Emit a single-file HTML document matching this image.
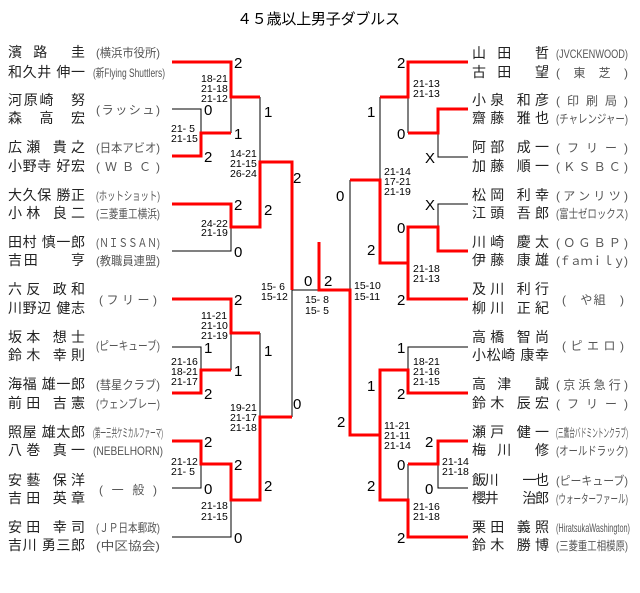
<!DOCTYPE html>
<html><head><meta charset="utf-8"><style>
html,body{margin:0;padding:0;background:#fff;}
svg{display:block;}
.n{font-family:"Liberation Sans","Noto Sans CJK JP",sans-serif;font-size:14px;fill:#222;}
.t{font-family:"Liberation Sans","Noto Sans CJK JP",sans-serif;font-size:12px;fill:#555;}
.s{font-family:"Liberation Sans",sans-serif;font-size:10.5px;fill:#000;}
.d{font-family:"Liberation Sans",sans-serif;font-size:15px;fill:#000;}
</style></head><body>
<svg width="640" height="593" viewBox="0 0 640 593" xmlns="http://www.w3.org/2000/svg">
<text x="237" y="24" textLength="163" lengthAdjust="spacing" style="font-family:'Liberation Sans','Noto Sans CJK JP',sans-serif;font-size:15px;fill:#000">４５歳以上男子ダブルス</text>

<g fill="none" stroke="#000" stroke-width="1">
<path d="M172,109 H201 V133"/><path d="M231,97 V133"/><path d="M172,251 H231 V227"/>
<path d="M260,97 V162"/><path d="M172,347 H201 V370"/><path d="M231,333 V370"/>
<path d="M260,333 V417"/><path d="M292,417 V290 H350 V180"/>
<path d="M172,488 H201 V464"/><path d="M172,537 H231 V500"/>
<path d="M380,97 V180"/><path d="M408,97 V133"/><path d="M468,157 H438 V133"/>
<path d="M468,204 H438 V227"/><path d="M468,347 H408 V370"/><path d="M468,488 H438 V464"/>
<path d="M408,464 V500"/>
</g>
<g fill="none" stroke="#f00" stroke-width="3">
<path d="M172,62 H231 V97 H260"/>
<path d="M172,156 H201 V133 H231"/>
<path d="M172,204 H231 V227 H260 V162 H292 V290"/>
<path d="M172,299 H231 V333 H260"/>
<path d="M172,393 H201 V370 H231"/>
<path d="M172,441 H201 V464 H231 V500 H260 V417 H292"/>
<path d="M319,242 V290 H350 V435 H380"/>
<path d="M468,62 H408 V97 H380"/>
<path d="M468,109 H438 V133 H408"/>
<path d="M468,251 H438 V227 H408 V299 H468"/>
<path d="M408,263 H380 V180 H350"/>
<path d="M468,393 H408 V370 H380 V500 H408 V537 H468"/>
<path d="M468,441 H438 V464 H408"/>
</g>

<g class="n">
<text x="8" y="57" textLength="77" lengthAdjust="spacing">濱　路　　圭</text>
<text x="8" y="77" textLength="77" lengthAdjust="spacing">和久井 伸一</text>
<text x="8" y="105" textLength="77" lengthAdjust="spacing">河原崎　努</text>
<text x="8" y="123" textLength="77" lengthAdjust="spacing">森　高　宏</text>
<text x="8" y="152" textLength="77" lengthAdjust="spacing">広瀬 貴之</text>
<text x="8" y="171" textLength="77" lengthAdjust="spacing">小野寺 好宏</text>
<text x="8" y="200" textLength="77" lengthAdjust="spacing">大久保 勝正</text>
<text x="8" y="218" textLength="77" lengthAdjust="spacing">小林 良二</text>
<text x="8" y="247" textLength="77" lengthAdjust="spacing">田村 慎一郎</text>
<text x="8" y="265" textLength="77" lengthAdjust="spacing">吉田　　亨</text>
<text x="8" y="294" textLength="77" lengthAdjust="spacing">六反 政和</text>
<text x="8" y="313" textLength="77" lengthAdjust="spacing">川野辺 健志</text>
<text x="8" y="342" textLength="77" lengthAdjust="spacing">坂本 想士</text>
<text x="8" y="360" textLength="77" lengthAdjust="spacing">鈴木 幸則</text>
<text x="8" y="389" textLength="77" lengthAdjust="spacing">海福 雄一郎</text>
<text x="8" y="408" textLength="77" lengthAdjust="spacing">前田 吉憲</text>
<text x="8" y="437" textLength="77" lengthAdjust="spacing">照屋 雄太郎</text>
<text x="8" y="455" textLength="77" lengthAdjust="spacing">八巻 真一</text>
<text x="8" y="485" textLength="77" lengthAdjust="spacing">安藝 保洋</text>
<text x="8" y="503" textLength="77" lengthAdjust="spacing">吉田 英章</text>
<text x="8" y="532" textLength="77" lengthAdjust="spacing">安田 幸司</text>
<text x="8" y="550" textLength="77" lengthAdjust="spacing">吉川 勇三郎</text>
</g>
<g class="t">
<text x="96" y="57" textLength="64" lengthAdjust="spacingAndGlyphs">(横浜市役所)</text>
<text x="93" y="77" textLength="72" lengthAdjust="spacingAndGlyphs">(新Flying Shuttlers)</text>
<text x="96" y="114" textLength="64" lengthAdjust="spacing">(ラッシュ)</text>
<text x="96" y="152" textLength="64" lengthAdjust="spacingAndGlyphs">(日本アビオ)</text>
<text x="96" y="171" textLength="64" lengthAdjust="spacing">(ＷＢＣ)</text>
<text x="96" y="200" textLength="64" lengthAdjust="spacingAndGlyphs">(ホットショット)</text>
<text x="96" y="218" textLength="64" lengthAdjust="spacingAndGlyphs">(三菱重工横浜)</text>
<text x="96" y="247" textLength="64" lengthAdjust="spacingAndGlyphs">(ＮＩＳＳＡＮ)</text>
<text x="96" y="265" textLength="64" lengthAdjust="spacingAndGlyphs">(教職員連盟)</text>
<text x="99" y="304" textLength="58" lengthAdjust="spacing">(フリー)</text>
<text x="96" y="350" textLength="64" lengthAdjust="spacingAndGlyphs">(ピーキューブ)</text>
<text x="96" y="389" textLength="64" lengthAdjust="spacingAndGlyphs">(彗星クラブ)</text>
<text x="96" y="408" textLength="64" lengthAdjust="spacingAndGlyphs">(ウェンブレー)</text>
<text x="93" y="437" textLength="70" lengthAdjust="spacingAndGlyphs">(第一三共ケミカルファーマ)</text>
<text x="93" y="455" textLength="70" lengthAdjust="spacingAndGlyphs">(NEBELHORN)</text>
<text x="99" y="494" textLength="58" lengthAdjust="spacing">(　一　般　)</text>
<text x="96" y="532" textLength="64" lengthAdjust="spacingAndGlyphs">(ＪＰ日本郵政)</text>
<text x="96" y="550" textLength="64" lengthAdjust="spacingAndGlyphs">(中区協会)</text>
</g>

<g class="n">
<text x="472" y="58" textLength="77" lengthAdjust="spacing">山　田　　哲</text>
<text x="472" y="77" textLength="77" lengthAdjust="spacing">古　田　　望</text>
<text x="472" y="105" textLength="77" lengthAdjust="spacing">小泉 和彦</text>
<text x="472" y="123" textLength="77" lengthAdjust="spacing">齋藤 雅也</text>
<text x="472" y="152" textLength="77" lengthAdjust="spacing">阿部 成一</text>
<text x="472" y="171" textLength="77" lengthAdjust="spacing">加藤 順一</text>
<text x="472" y="200" textLength="77" lengthAdjust="spacing">松岡 利幸</text>
<text x="472" y="218" textLength="77" lengthAdjust="spacing">江頭 吾郎</text>
<text x="472" y="247" textLength="77" lengthAdjust="spacing">川崎 慶太</text>
<text x="472" y="265" textLength="77" lengthAdjust="spacing">伊藤 康雄</text>
<text x="472" y="294" textLength="77" lengthAdjust="spacing">及川 利行</text>
<text x="472" y="313" textLength="77" lengthAdjust="spacing">柳川 正紀</text>
<text x="472" y="342" textLength="77" lengthAdjust="spacing">高橋 智尚</text>
<text x="472" y="360" textLength="77" lengthAdjust="spacing">小松崎 康幸</text>
<text x="472" y="389" textLength="77" lengthAdjust="spacing">高　津　　誠</text>
<text x="472" y="408" textLength="77" lengthAdjust="spacing">鈴木 辰宏</text>
<text x="472" y="437" textLength="77" lengthAdjust="spacing">瀬戸 健一</text>
<text x="472" y="455" textLength="77" lengthAdjust="spacing">梅　川　　修</text>
<text x="472" y="485" textLength="77" lengthAdjust="spacing">飯川　　一也</text>
<text x="472" y="503" textLength="77" lengthAdjust="spacing">櫻井　　治郎</text>
<text x="472" y="532" textLength="77" lengthAdjust="spacing">栗田 義照</text>
<text x="472" y="550" textLength="77" lengthAdjust="spacing">鈴木 勝博</text>
</g>
<g class="t">
<text x="556" y="58" textLength="72" lengthAdjust="spacingAndGlyphs">(JVCKENWOOD)</text>
<text x="556" y="77" textLength="72" lengthAdjust="spacing">(　東　芝　)</text>
<text x="556" y="105" textLength="72" lengthAdjust="spacing">(印刷局)</text>
<text x="556" y="123" textLength="72" lengthAdjust="spacingAndGlyphs">(チャレンジャー)</text>
<text x="556" y="152" textLength="72" lengthAdjust="spacing">(フリー)</text>
<text x="556" y="171" textLength="72" lengthAdjust="spacing">(ＫＳＢＣ)</text>
<text x="556" y="200" textLength="72" lengthAdjust="spacing">(アンリツ)</text>
<text x="556" y="218" textLength="72" lengthAdjust="spacingAndGlyphs">(富士ゼロックス)</text>
<text x="556" y="247" textLength="72" lengthAdjust="spacing">(ＯＧＢＰ)</text>
<text x="556" y="265" textLength="72" lengthAdjust="spacing">(ｆａｍｉｌｙ)</text>
<text x="562" y="304" textLength="62" lengthAdjust="spacing">(　や組　)</text>
<text x="562" y="350" textLength="62" lengthAdjust="spacing">(ピエロ)</text>
<text x="556" y="389" textLength="72" lengthAdjust="spacing">(京浜急行)</text>
<text x="556" y="408" textLength="72" lengthAdjust="spacing">(フリー)</text>
<text x="556" y="437" textLength="72" lengthAdjust="spacingAndGlyphs">(三鷹台バドミントンクラブ)</text>
<text x="556" y="455" textLength="72" lengthAdjust="spacingAndGlyphs">(オールドラック)</text>
<text x="556" y="485" textLength="72" lengthAdjust="spacingAndGlyphs">(ピーキューブ)</text>
<text x="556" y="503" textLength="72" lengthAdjust="spacingAndGlyphs">(ウォーターファール)</text>
<text x="556" y="532" textLength="74" lengthAdjust="spacingAndGlyphs">(HiratsukaWashington)</text>
<text x="556" y="550" textLength="72" lengthAdjust="spacingAndGlyphs">(三菱重工相模原)</text>
</g>

<g class="s" xml:space="preserve">
<text x="201" y="82">18-21</text><text x="201" y="92">21-18</text><text x="201" y="102">21-12</text>
<text x="171" y="132">21- 5</text><text x="171" y="142">21-15</text>
<text x="230" y="157">14-21</text><text x="230" y="167">21-15</text><text x="230" y="177">26-24</text>
<text x="201" y="227">24-22</text><text x="201" y="236">21-19</text>
<text x="261" y="290">15- 6</text><text x="261" y="300">15-12</text>
<text x="305" y="303">15- 8</text><text x="305" y="314">15- 5</text>
<text x="354" y="289">15-10</text><text x="354" y="300">15-11</text>
<text x="201" y="319">11-21</text><text x="201" y="329">21-10</text><text x="201" y="339">21-19</text>
<text x="171" y="365">21-16</text><text x="171" y="375">18-21</text><text x="171" y="385">21-17</text>
<text x="230" y="411">19-21</text><text x="230" y="421">21-17</text><text x="230" y="431">21-18</text>
<text x="171" y="465">21-12</text><text x="171" y="475">21- 5</text>
<text x="201" y="509">21-18</text><text x="201" y="520">21-15</text>
<text x="413" y="87">21-13</text><text x="413" y="97">21-13</text>
<text x="384" y="175">21-14</text><text x="384" y="185">17-21</text><text x="384" y="195">21-19</text>
<text x="413" y="272">21-18</text><text x="413" y="282">21-13</text>
<text x="413" y="365">18-21</text><text x="413" y="375">21-16</text><text x="413" y="385">21-15</text>
<text x="384" y="429">11-21</text><text x="384" y="439">21-11</text><text x="384" y="449">21-14</text>
<text x="442" y="465">21-14</text><text x="442" y="475">21-18</text>
<text x="413" y="510">21-16</text><text x="413" y="520">21-18</text>
</g>

<g class="d">
<text x="234" y="68">2</text><text x="204" y="115">0</text><text x="234" y="139">1</text><text x="204" y="162">2</text>
<text x="264" y="117">1</text><text x="234" y="210">2</text><text x="264" y="215">2</text><text x="234" y="257">0</text>
<text x="293" y="183">2</text><text x="304" y="286">0</text><text x="324" y="286">2</text>
<text x="234" y="305">2</text><text x="204" y="353">1</text><text x="234" y="376">1</text><text x="204" y="399">2</text>
<text x="264" y="356">1</text><text x="293" y="409">0</text>
<text x="204" y="447">2</text><text x="234" y="470">2</text><text x="204" y="494">0</text><text x="264" y="491">2</text><text x="234" y="543">0</text>
<text x="397" y="68">2</text><text x="397" y="139">0</text><text x="425" y="163">X</text><text x="367" y="117">1</text>
<text x="425" y="210">X</text><text x="397" y="233">0</text><text x="367" y="255">2</text><text x="397" y="305">2</text>
<text x="336" y="201">0</text>
<text x="397" y="353">1</text><text x="397" y="399">2</text><text x="367" y="391">1</text><text x="337" y="427">2</text>
<text x="425" y="447">2</text><text x="397" y="470">0</text><text x="425" y="494">0</text><text x="367" y="491">2</text><text x="397" y="543">2</text>
</g>
</svg>
</body></html>
